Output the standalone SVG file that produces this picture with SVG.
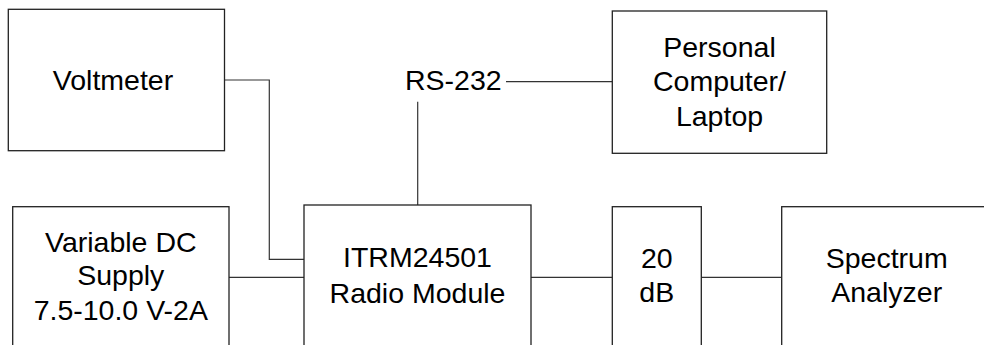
<svg xmlns="http://www.w3.org/2000/svg" width="984" height="345" viewBox="0 0 984 345">
<style>
.box{fill:#fff;stroke:#222;stroke-width:1.3}
.c{fill:none;stroke:#333;stroke-width:1.2}
text{font-family:"Liberation Sans",Arial,sans-serif;font-size:28.5px;fill:#000;text-anchor:middle}
</style>
<rect width="984" height="345" fill="#fff"/>
<g id="connectors">
<polyline class="c" points="224.5,80 269.3,80 269.3,259.3 304,259.3"/>
<line class="c" x1="417.7" y1="101.7" x2="417.7" y2="205"/>
<line class="c" x1="506" y1="81.7" x2="612.3" y2="81.7"/>
<line class="c" x1="229" y1="277.3" x2="304" y2="277.3"/>
<line class="c" x1="531" y1="277.3" x2="612.3" y2="277.3"/>
<line class="c" x1="701.3" y1="277.3" x2="781.7" y2="277.3"/>
</g>
<g id="voltmeter">
<rect class="box" x="8.3" y="9.3" width="216.2" height="141.4"/>
<text x="113" y="90">Voltmeter</text>
</g>
<g id="rs232">
<text x="453.3" y="90">RS-232</text>
</g>
<g id="pc">
<rect class="box" x="612.3" y="11" width="214.4" height="142.3"/>
<text x="719.5" y="56.7">Personal</text>
<text x="719.5" y="90.7">Computer/</text>
<text x="719.5" y="125.5">Laptop</text>
</g>
<g id="dcsupply">
<rect class="box" x="12.7" y="206.7" width="216.3" height="160"/>
<text x="120.8" y="251.7">Variable DC</text>
<text x="120.8" y="285.3">Supply</text>
<text x="120.8" y="320">7.5-10.0 V-2A</text>
</g>
<g id="radio">
<rect class="box" x="304" y="205" width="227" height="160"/>
<text x="417.5" y="267.3">ITRM24501</text>
<text x="417.5" y="302.7">Radio Module</text>
</g>
<g id="attenuator">
<rect class="box" x="612.3" y="206.7" width="89" height="160"/>
<text x="656.8" y="268.3">20</text>
<text x="656.8" y="302.3">dB</text>
</g>
<g id="analyzer">
<rect class="box" x="781.7" y="206.7" width="220" height="160"/>
<text x="886.7" y="268.3">Spectrum</text>
<text x="886.7" y="302.3">Analyzer</text>
</g>
</svg>
